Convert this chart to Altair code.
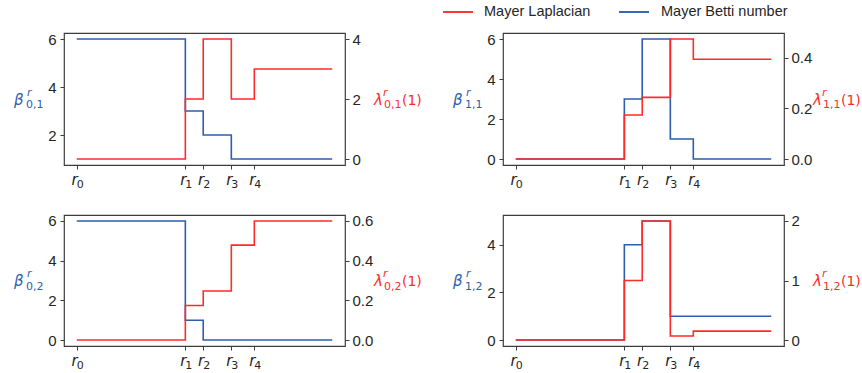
import altair as alt
import pandas as pd

# ---------------- data ----------------
x_pos = [0.0, 1.70, 1.98, 2.42, 2.78, 4.0]      # r0, r1, r2, r3, r4, end of range
tick_pos = [0.0, 1.70, 1.98, 2.42, 2.78]
tick_sub = ["0", "1", "2", "3", "4"]

betti_01 = [6, 3, 2, 1, 1, 1]
lap_01 = [0, 2, 4, 2, 3, 3]

betti_11 = [0, 3, 6, 1, 0, 0]
lap_11 = [0, 0.174, 0.244, 0.475, 0.395, 0.395]

betti_02 = [6, 1, 0, 0, 0, 0]
lap_02 = [0, 0.174, 0.247, 0.478, 0.6, 0.6]

betti_12 = [0, 4, 5, 1, 1, 1]
lap_12 = [0, 1, 2, 0.067, 0.15, 0.15]

legend_labels = ["Mayer Laplacian", "Mayer Betti number"]

BLUE = "#2d5fae"
RED = "#ff2b2b"
TXT = "#262626"
FRAME = "#3d3d3d"
MATH = "DejaVu Sans"
SANS = "Liberation Sans"

XS = alt.Scale(domain=[-0.2, 4.2], nice=False, zero=False)
XAX = alt.Axis(values=tick_pos, labels=False, title=None, grid=False, domain=False,
               ticks=True, tickSize=4)


def txt(s, x, y, size, color, italic=False, align="left", font=MATH):
    return alt.Chart(pd.DataFrame({"t": [s]})).mark_text(
        align=align, baseline="alphabetic", fontSize=size, font=font, color=color,
        fontStyle="italic" if italic else "normal"
    ).encode(text="t:N", x=alt.value(x), y=alt.value(y))


def panel(betti, lap, sub, dom_l, ticks_l, dom_r, ticks_r, fmt_r, W, H, legend=False):
    df = pd.DataFrame({"x": x_pos, "b": betti, "l": lap})
    blue = alt.Chart(df).mark_line(interpolate="step-after", color=BLUE, strokeWidth=1.6).encode(
        x=alt.X("x:Q", scale=XS, axis=XAX),
        y=alt.Y("b:Q", scale=alt.Scale(domain=dom_l, nice=False, zero=False),
                axis=alt.Axis(orient="left", values=ticks_l, format="d", title=None,
                              labelPadding=4)),
    )
    red = alt.Chart(df).mark_line(interpolate="step-after", color=RED, strokeWidth=1.6).encode(
        x=alt.X("x:Q", scale=XS, axis=XAX),
        y=alt.Y("l:Q", scale=alt.Scale(domain=dom_r, nice=False, zero=False),
                axis=alt.Axis(orient="right", values=ticks_r, format=fmt_r, title=None,
                              labelPadding=3)),
    )
    lab_df = pd.DataFrame({"x": tick_pos, "r": ["r"] * len(tick_pos), "s": tick_sub})
    r_lab = alt.Chart(lab_df).mark_text(
        align="right", baseline="alphabetic", font=MATH, fontStyle="italic",
        fontSize=15, color=TXT, dx=1
    ).encode(x=alt.X("x:Q", scale=XS, axis=XAX), text="r:N", y=alt.value(H + 20))
    s_lab = alt.Chart(lab_df).mark_text(
        align="left", baseline="alphabetic", font=MATH, fontSize=11, color=TXT, dx=0
    ).encode(x=alt.X("x:Q", scale=XS, axis=XAX), text="s:N", y=alt.value(H + 23))

    cy = H / 2.0
    layers = [blue, red, r_lab, s_lab,
              txt("β", -50, cy + 5.5, 15, BLUE, italic=True),
              txt("r", -37, cy - 3.5, 11, BLUE, italic=True),
              txt(sub, -38, cy + 9, 11, BLUE),
              txt("λ", W + 29, cy + 5.5, 15, RED, italic=True),
              txt("r", W + 38, cy - 3.5, 11, RED, italic=True),
              txt(sub, W + 39, cy + 9, 11, RED),
              txt("(1)", W + 57, cy + 5.5, 14, RED)]
    if legend:
        leg = pd.DataFrame({"t": legend_labels})
        layers += [
            alt.Chart(leg).mark_rule(color=RED, strokeWidth=1.5).encode(
                x=alt.value(-60), x2=alt.value(-30), y=alt.value(-21)),
            txt(legend_labels[0], -19, -17, 14.5, TXT, font=SANS),
            alt.Chart(leg).mark_rule(color=BLUE, strokeWidth=1.5).encode(
                x=alt.value(116), x2=alt.value(146), y=alt.value(-21)),
            txt(legend_labels[1], 158, -17, 14.5, TXT, font=SANS),
        ]
    return alt.layer(*layers).resolve_scale(y="independent").properties(width=W, height=H)


p1 = panel(betti_01, lap_01, "0,1", [0.75, 6.25], [2, 4, 6], [-0.2, 4.2], [0, 2, 4], "d", 281, 132)
p2 = panel(betti_11, lap_11, "1,1", [-0.3, 6.3], [0, 2, 4, 6], [-0.02375, 0.49875],
           [0.0, 0.2, 0.4], ".1f", 281, 132, legend=True)
p3 = panel(betti_02, lap_02, "0,2", [-0.3, 6.3], [0, 2, 4, 6], [-0.03, 0.63],
           [0.0, 0.2, 0.4, 0.6], ".1f", 281, 131)
p4 = panel(betti_12, lap_12, "1,2", [-0.25, 5.25], [0, 2, 4], [-0.1, 2.1], [0, 1, 2], "d", 281, 131)

chart = alt.concat(
    p1, p2, p3, p4, columns=2,
    spacing=alt.RowColnumber(column=158, row=50), bounds="flush"
).properties(
    padding={"left": 13, "top": 3, "right": 0, "bottom": 0}
).configure_view(
    stroke=FRAME, strokeWidth=1.2
).configure_axis(
    grid=False, domain=False, tickColor=FRAME, tickSize=4, tickWidth=1,
    labelFont=SANS, labelFontSize=15, labelColor=TXT
)

chart.save("out.html", embed_options={"renderer": "svg", "actions": False})
